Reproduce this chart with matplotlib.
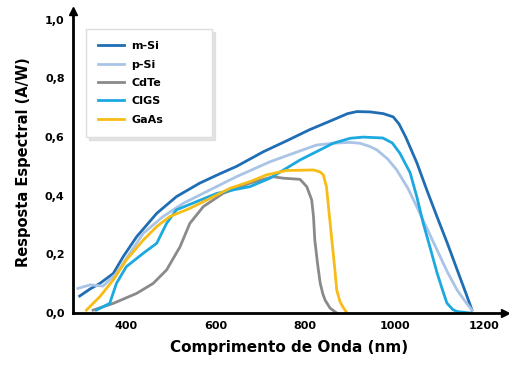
import numpy as np
import matplotlib.pyplot as plt

# spectral response curves (wavelength nm, A/W)
msi_x = [297, 320, 342, 372, 394, 424, 469, 513, 565, 610, 647, 707, 760, 810, 863, 895, 916, 945, 975, 997, 1010, 1025, 1050, 1072, 1095, 1118, 1140, 1160, 1173]
msi_y = [0.058, 0.082, 0.101, 0.135, 0.192, 0.260, 0.340, 0.397, 0.443, 0.475, 0.500, 0.550, 0.588, 0.625, 0.659, 0.680, 0.687, 0.686, 0.680, 0.669, 0.645, 0.600, 0.512, 0.420, 0.328, 0.238, 0.147, 0.065, 0.01]

psi_x = [293, 320, 349, 379, 409, 439, 483, 528, 588, 647, 722, 780, 826, 863, 900, 923, 945, 961, 985, 1005, 1030, 1050, 1072, 1095, 1118, 1140, 1160, 1173]
psi_y = [0.084, 0.096, 0.092, 0.135, 0.204, 0.272, 0.329, 0.374, 0.420, 0.465, 0.516, 0.548, 0.573, 0.579, 0.582, 0.579, 0.568, 0.556, 0.525, 0.488, 0.425, 0.362, 0.290, 0.215, 0.140, 0.078, 0.035, 0.01]

cdte_x = [327, 372, 424, 461, 491, 521, 543, 573, 617, 677, 729, 751, 789, 804, 815, 819, 822, 828, 834, 840, 845, 856, 871]
cdte_y = [0.01, 0.033, 0.067, 0.101, 0.147, 0.226, 0.306, 0.363, 0.408, 0.443, 0.465, 0.460, 0.456, 0.431, 0.386, 0.330, 0.249, 0.170, 0.102, 0.065, 0.044, 0.017, 0.0]

cigs_x = [334, 364, 379, 401, 439, 469, 491, 513, 558, 603, 640, 677, 722, 789, 863, 901, 930, 974, 995, 1012, 1035, 1050, 1064, 1080, 1095, 1108, 1117, 1130, 1140, 1170]
cigs_y = [0.01, 0.033, 0.101, 0.158, 0.204, 0.238, 0.306, 0.352, 0.380, 0.408, 0.420, 0.431, 0.460, 0.522, 0.579, 0.596, 0.600, 0.597, 0.580, 0.545, 0.478, 0.395, 0.307, 0.220, 0.137, 0.075, 0.034, 0.012, 0.005, 0.0]

gaas_x = [312, 342, 372, 401, 439, 469, 498, 543, 588, 632, 677, 714, 759, 819, 834, 841, 848, 852, 856, 860, 866, 871, 878, 885, 894]
gaas_y = [0.01, 0.056, 0.113, 0.181, 0.249, 0.295, 0.329, 0.357, 0.391, 0.425, 0.448, 0.471, 0.486, 0.488, 0.481, 0.471, 0.431, 0.370, 0.310, 0.249, 0.160, 0.078, 0.040, 0.02, 0.0]

x_ticks = [400, 600, 800, 1000, 1200]
y_ticks = [0.0, 0.2, 0.4, 0.6, 0.8, 1.0]
y_labels = ["0,0", "0,2", "0,4", "0,6", "0,8", "1,0"]

fig = plt.figure(figsize=(5.09, 3.67), dpi=100)
ax = fig.add_axes([0.1434, 0.147, 0.849, 0.823])

ax.plot(msi_x, msi_y, color="#1f6db3", lw=2, label="m-Si")
ax.plot(psi_x, psi_y, color="#a9c4e6", lw=2, label="p-Si")
ax.plot(cdte_x, cdte_y, color="#8a8a8a", lw=2, label="CdTe")
ax.plot(cigs_x, cigs_y, color="#1ba9e0", lw=2, label="CIGS")
ax.plot(gaas_x, gaas_y, color="#f7bd16", lw=2, label="GaAs")

ax.set_xlim(282, 1247)
ax.set_ylim(0, 1.03)
ax.set_xticks(x_ticks)
ax.set_yticks(y_ticks)
ax.set_yticklabels(y_labels)
ax.tick_params(length=0, labelsize=8, pad=6)
for lab in ax.get_xticklabels() + ax.get_yticklabels():
    lab.set_fontweight("bold")

ax.spines["top"].set_visible(False)
ax.spines["right"].set_visible(False)
ax.spines["left"].set_linewidth(2)
ax.spines["bottom"].set_linewidth(2)
# arrow heads
ax.plot(1, 0, ">k", ms=6, transform=ax.transAxes, clip_on=False)
ax.plot(0, 1, "^k", ms=6, transform=ax.transAxes, clip_on=False)

ax.set_xlabel("Comprimento de Onda (nm)", fontsize=11, fontweight="bold", labelpad=6)
ax.set_ylabel("Resposta Espectral (A/W)", fontsize=10.5, fontweight="bold", labelpad=10)

leg = ax.legend(loc="upper left", bbox_to_anchor=(0.03, 0.5, 0.292, 0.44), mode="expand",
                fancybox=False, shadow={"color": "0.8", "ox": 2, "oy": -2},
                edgecolor="#dddddd", fontsize=8, handlelength=2.3,
                borderpad=1.1, labelspacing=0.75, handletextpad=0.7, borderaxespad=0)
for t in leg.get_texts():
    t.set_fontweight("bold")

fig.savefig("out.png", dpi=100)
